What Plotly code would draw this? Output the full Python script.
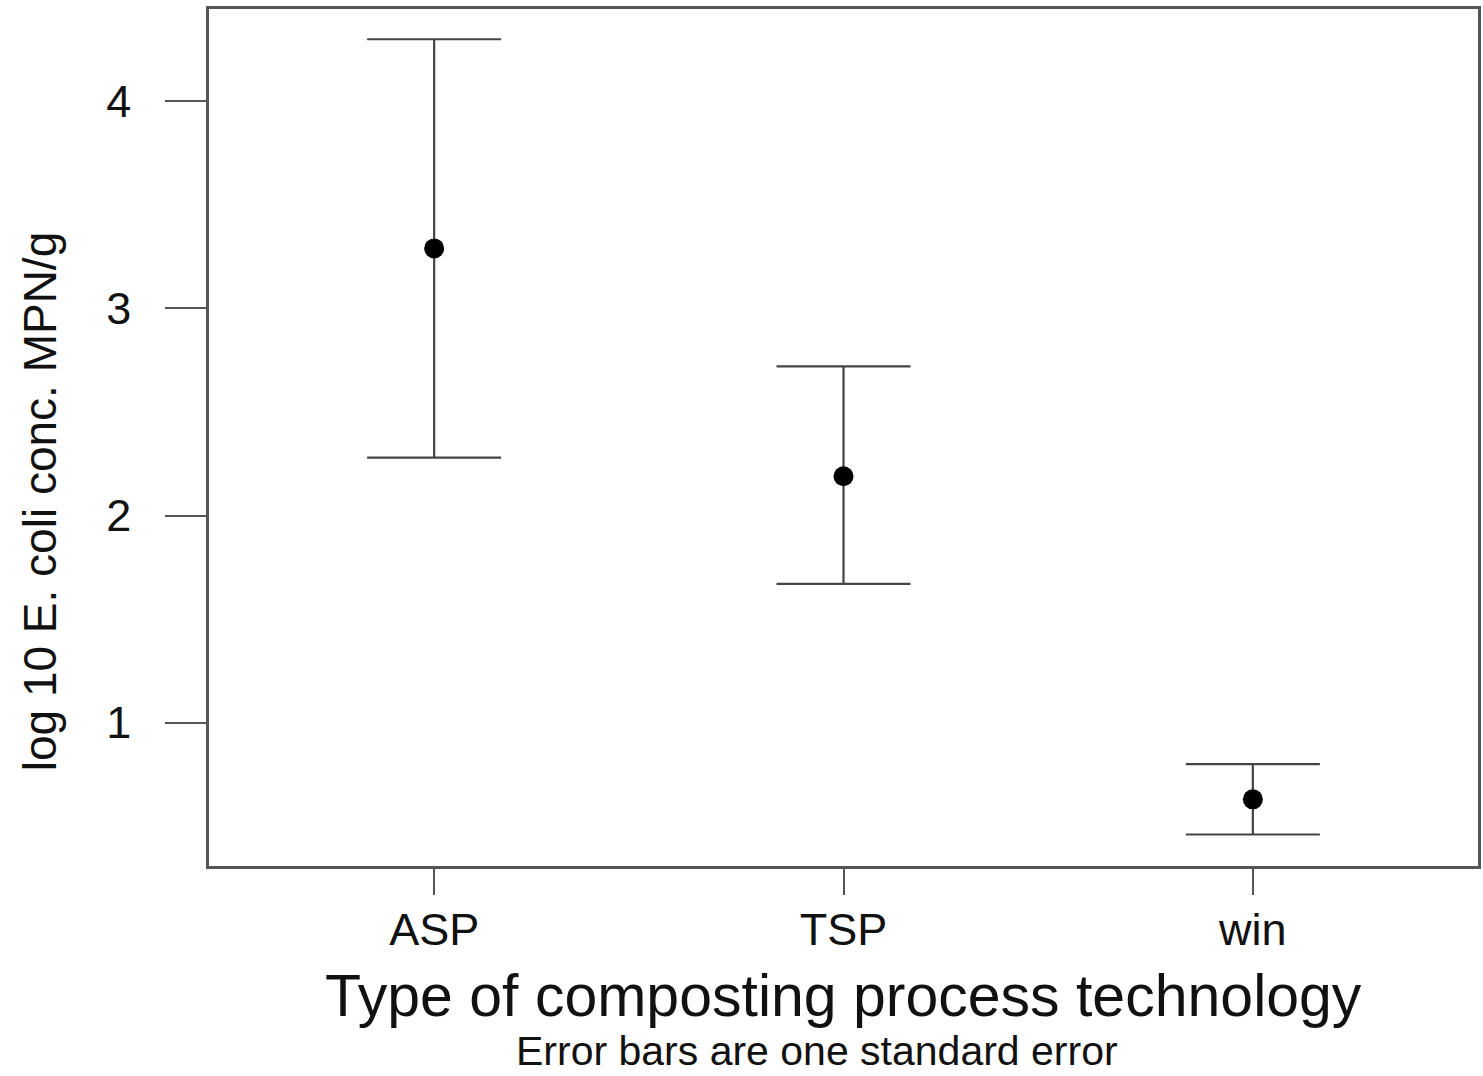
import plotly.graph_objects as go

categories = ["ASP", "TSP", "win"]
means = [3.29, 2.19, 0.63]
upper = [4.30, 2.72, 0.80]
lower = [2.28, 1.67, 0.46]
y_ticks = [1, 2, 3, 4]

err_plus = [u - m for u, m in zip(upper, means)]
err_minus = [m - l for m, l in zip(means, lower)]

FONT = "Liberation Sans, Arial, sans-serif"
AXC = "#555555"

fig = go.Figure()
fig.add_trace(go.Scatter(
    x=categories, y=means, mode="markers",
    marker=dict(color="black", size=20),
    error_y=dict(type="data", symmetric=False, array=err_plus, arrayminus=err_minus,
                 color="#444444", thickness=2.2, width=67),
    showlegend=False,
))

fig.update_layout(
    width=1483, height=1076,
    margin=dict(l=209, r=2, t=9, b=210),
    paper_bgcolor="white", plot_bgcolor="white",
    font=dict(family=FONT, color="#111111"),
    xaxis=dict(
        type="category", range=[-0.55, 2.55],
        showline=True, mirror=True, linecolor=AXC, linewidth=2.5,
        ticks="outside", ticklen=26, tickwidth=2, tickcolor=AXC,
        showgrid=False, zeroline=False,
        tickfont=dict(size=45, family=FONT, color="#111111"),
        ticklabelstandoff=-4,
    ),
    yaxis=dict(
        range=[0.308, 4.446], tickvals=y_ticks,
        showline=True, mirror=True, linecolor=AXC, linewidth=2.5,
        ticks="outside", ticklen=41, tickwidth=2, tickcolor=AXC,
        showgrid=False, zeroline=False,
        tickfont=dict(size=45, family=FONT, color="#111111"),
        ticklabelstandoff=25,
    ),
    annotations=[
        dict(text="Type of composting process technology", xref="paper", yref="paper",
             x=0.5, y=0, yshift=-165, xanchor="center", yanchor="bottom",
             showarrow=False, font=dict(size=59, family=FONT, color="#111111")),
        dict(text="Error bars are one standard error", xref="paper", yref="paper",
             x=0.5, y=0, xshift=-27, yshift=-209, xanchor="center", yanchor="bottom",
             borderpad=0,
             showarrow=False, font=dict(size=41, family=FONT, color="#111111")),
        dict(text="log 10 E. coli conc. MPN/g", xref="paper", yref="paper",
             x=-0.133, y=0.4247, xanchor="center", yanchor="middle", textangle=-90,
             showarrow=False, font=dict(size=46, family=FONT, color="#111111")),
    ],
)

fig.write_html("out.html")
